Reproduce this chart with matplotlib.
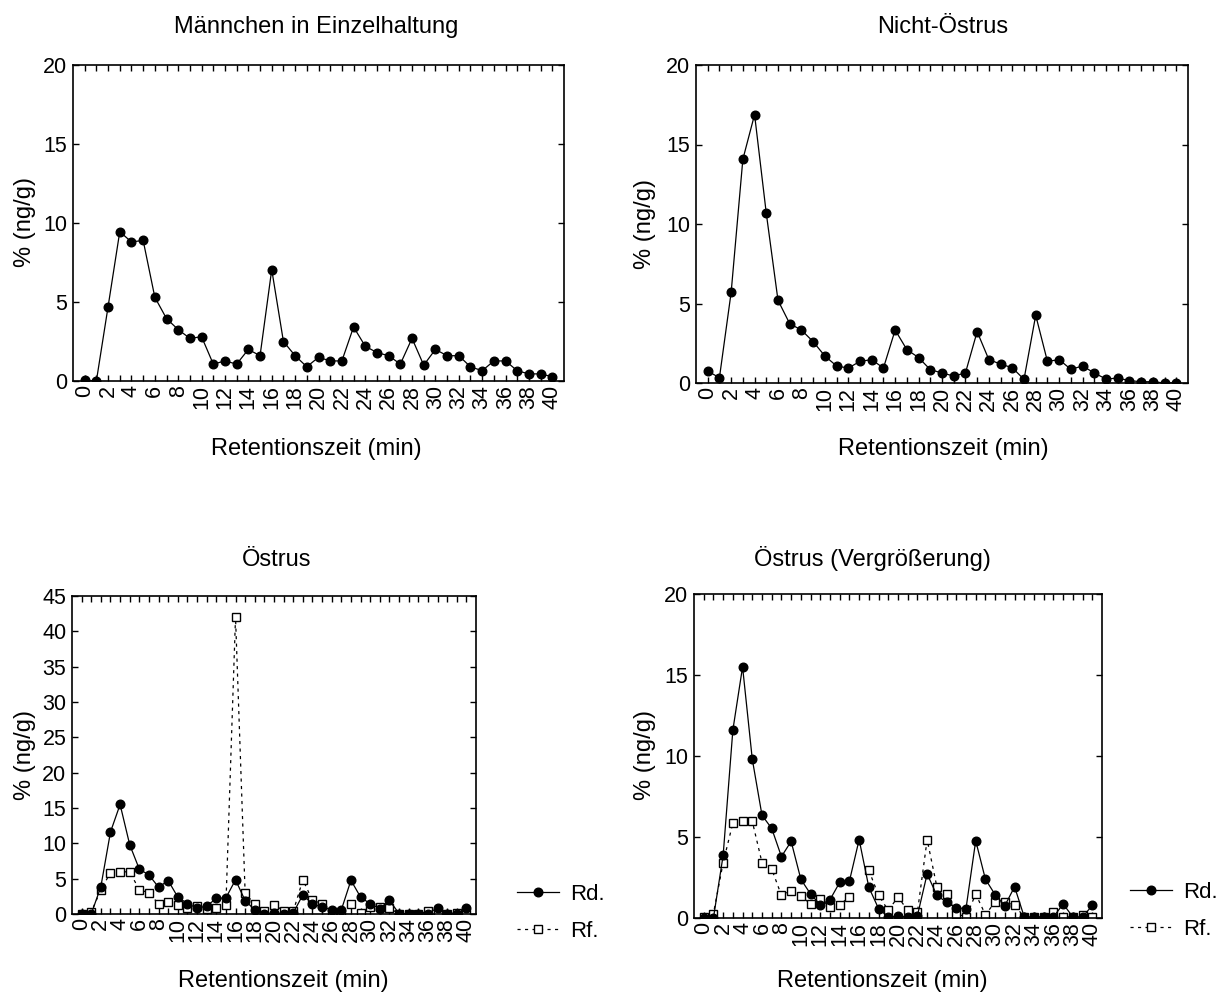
import numpy as np
import matplotlib
matplotlib.use("Agg")
import matplotlib.pyplot as plt
from matplotlib.lines import Line2D

plt.rcParams['font.family'] = ['Liberation Sans', 'DejaVu Sans']

# Retentionszeit (min), one value per minute
rt = np.arange(0, 41)
xtick_vals = np.arange(0, 41, 2)

# Männchen in Einzelhaltung
maennchen = [0.05, 0.0, 4.7, 9.45, 8.8, 8.9, 5.3, 3.95, 3.25, 2.7,
             2.8, 1.07, 1.27, 1.07, 2.0, 1.6, 7.05, 2.5, 1.6, 0.9,
             1.5, 1.27, 1.27, 3.42, 2.2, 1.8, 1.6, 1.07, 2.7, 1.0,
             2.0, 1.6, 1.6, 0.9, 0.65, 1.27, 1.27, 0.65, 0.45, 0.45, 0.27]

# Nicht-Östrus
nicht_oestrus = [0.75, 0.33, 5.7, 14.07, 16.88, 10.67, 5.2, 3.73, 3.33, 2.6,
                 1.7, 1.07, 0.94, 1.36, 1.47, 0.94, 3.33, 2.1, 1.6, 0.84,
                 0.63, 0.44, 0.63, 3.23, 1.47, 1.19, 0.96, 0.23, 4.26, 1.36,
                 1.47, 0.86, 1.07, 0.63, 0.25, 0.31, 0.15, 0.08, 0.08, 0.0, 0.0]

# Östrus: Rd. and Rf.
oestrus_rd = [0.0, 0.0, 3.87, 11.6, 15.5, 9.8, 6.34, 5.53, 3.79, 4.73,
              2.39, 1.48, 0.82, 1.13, 2.2, 2.28, 4.84, 1.89, 0.58, 0.06,
              0.12, 0.06, 0.15, 2.72, 1.4, 0.97, 0.62, 0.58, 4.77, 2.39,
              1.44, 0.76, 1.93, 0.06, 0.06, 0.06, 0.06, 0.87, 0.06, 0.06, 0.78]
oestrus_rf = [0.06, 0.27, 3.42, 5.86, 5.97, 5.97, 3.42, 3.02, 1.4, 1.69,
              1.34, 0.88, 1.19, 0.68, 0.82, 1.3, 42.0, 2.94, 1.4, 0.47,
              1.3, 0.47, 0.37, 4.84, 1.93, 1.48, 0.27, 0.06, 1.48, 0.2,
              0.99, 0.99, 0.78, 0.06, 0.06, 0.06, 0.37, 0.06, 0.06, 0.16, 0.06]

W, H = 1228, 998
fig = plt.figure(figsize=(W / 100, H / 100), dpi=100)


def px_axes(l, t, r, b):
    return fig.add_axes([l / W, 1 - b / H, (r - l) / W, (b - t) / H])


rd_style = dict(color='black', lw=0.9, marker='o', ms=6.2, mfc='black', mec='black')
rf_style = dict(color='black', lw=0.9, ls=(0, (2.5, 3.5)), marker='s', ms=5.5,
                mfc='white', mec='black', mew=1.0)


def style_axes(ax, ymax, ystep):
    ax.set_xlim(-1, 41)
    ax.set_ylim(0, ymax)
    ax.set_xticks(xtick_vals)
    ax.set_xticklabels([str(v) for v in xtick_vals], rotation=90, fontsize=15.5)
    ax.set_xticks(rt, minor=True)
    ax.set_yticks(np.arange(0, ymax + 1, ystep))
    ax.tick_params(axis='y', labelsize=15.5)
    ax.tick_params(which='both', direction='in', top=True, right=True, width=1, length=4)
    ax.tick_params(axis='x', which='both', pad=3)
    ax.tick_params(axis='y', pad=4)
    for s in ax.spines.values():
        s.set_linewidth(1.2)


# panel 1
ax1 = px_axes(73, 65, 564, 381)
ax1.plot(rt, maennchen, **rd_style)
style_axes(ax1, 20, 5)

# panel 2
ax2 = px_axes(696, 65, 1188, 383)
ax2.plot(rt, nicht_oestrus, **rd_style)
style_axes(ax2, 20, 5)

# panel 3
ax3 = px_axes(72, 596, 476, 914)
ax3.plot(rt, oestrus_rf, **rf_style)
ax3.plot(rt, oestrus_rd, **rd_style)
style_axes(ax3, 45, 5)

# panel 4 (zoom, off-scale value left out)
ax4 = px_axes(694, 594, 1102, 918)
rf_arr = np.array(oestrus_rf)
ax4.plot(rt, np.where(rf_arr > 20, np.nan, rf_arr), **rf_style)
ax4.plot(rt, oestrus_rd, **rd_style)
style_axes(ax4, 20, 5)

fs = 17
titles = [("Männchen in Einzelhaltung", 316, 33), ("Nicht-Östrus", 943, 33),
          ("Östrus", 277, 566), ("Östrus (Vergrößerung)", 872, 566)]
for txt, x, y in titles:
    fig.text(x / W, 1 - y / H, txt, ha='center', va='baseline', fontsize=fs)

xlabels = [(316, 455), (943, 455), (283, 987), (882, 987)]
for x, y in xlabels:
    fig.text(x / W, 1 - y / H, "Retentionszeit (min)", ha='center', va='baseline', fontsize=fs)

ylabels = [(25, 222), (645, 224), (25, 755), (645, 755)]
for x, y in ylabels:
    fig.text(x / W, 1 - y / H, "% (ng/g)", ha='center', va='center', rotation=90, fontsize=fs)

handles = [Line2D([], [], **rd_style), Line2D([], [], **rf_style)]
for lx, ly in [(517, 913), (1130, 911)]:
    fig.legend(handles, ["Rd.", "Rf."], loc='center left', bbox_to_anchor=(lx / W, 1 - ly / H),
               bbox_transform=fig.transFigure, frameon=False, fontsize=16,
               handlelength=1.9, handletextpad=0.5, labelspacing=0.7,
               borderpad=0, borderaxespad=0)

fig.savefig("out.png", dpi=100)
